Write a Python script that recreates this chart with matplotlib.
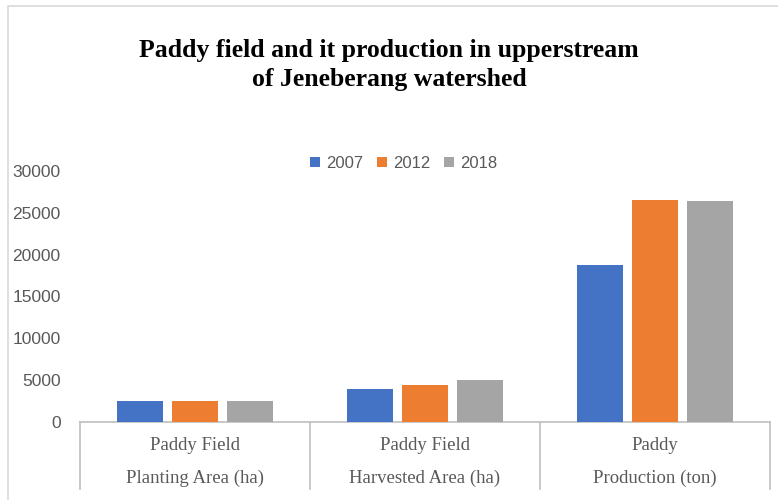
import matplotlib.pyplot as plt
import numpy as np
from matplotlib.patches import Rectangle

# data
cat_top = ["Paddy Field", "Paddy Field", "Paddy"]
cat_bottom = ["Planting Area (ha)", "Harvested Area (ha)", "Production (ton)"]
years = ["2007", "2012", "2018"]
v2007 = [2550, 4000, 18800]
v2012 = [2550, 4450, 26500]
v2018 = [2550, 5000, 26400]
colors = ["#4472C4", "#ED7D31", "#A5A5A5"]

fig = plt.figure(figsize=(7.78, 5.0), dpi=100)
ax = fig.add_axes([80 / 778, 78 / 500, 690 / 778, 251 / 500])

# outer chart border
fig.patches.append(Rectangle((8 / 778, -0.1), 1.2, 1.1 - 6 / 500, transform=fig.transFigure,
                             fill=False, edgecolor="#D9D9D9", linewidth=1.2))

x = np.arange(len(cat_top))
w = 0.196
step = 0.239
for i, (vals, c, yr) in enumerate(zip([v2007, v2012, v2018], colors, years)):
    ax.bar(x + (i - 1) * step, vals, width=w, color=c, label=yr, zorder=3)

ax.set_xlim(-0.5, 2.5)
ax.set_ylim(0, 30000)
ax.set_yticks(range(0, 30001, 5000))
ax.set_xticks([])
for s in ["top", "right", "left"]:
    ax.spines[s].set_visible(False)
ax.spines["bottom"].set_color("#BFBFBF")
ax.spines["bottom"].set_linewidth(1.2)
ax.tick_params(axis="y", length=0, pad=14, labelsize=12.5, labelcolor="#595959")
for lab in ax.get_yticklabels():
    lab.set_fontfamily("Liberation Sans")

# category axis: separators and two-row labels
trans = ax.get_xaxis_transform()
for b in np.arange(-0.5, 3.0, 1.0):
    ax.plot([b, b], [0, -67 / 251], transform=trans, color="#BFBFBF", lw=1.2, clip_on=False)
for i in range(len(cat_top)):
    ax.text(x[i], -23 / 251, cat_top[i], transform=trans, ha="center", va="center",
            family="Liberation Serif", fontsize=13.5, color="#595959")
    ax.text(x[i], -56 / 251, cat_bottom[i], transform=trans, ha="center", va="center",
            family="Liberation Serif", fontsize=13.5, color="#595959")

leg = ax.legend(loc="center", bbox_to_anchor=(0.469, 1.03), ncol=3, frameon=False,
                handlelength=0.6, handleheight=0.6, handletextpad=0.35, columnspacing=0.85,
                prop={"family": "Liberation Sans", "size": 12})
for t in leg.get_texts():
    t.set_color("#595959")

fig.text(0.5, 1 - 65 / 500, "Paddy field and it production in upperstream\nof Jeneberang watershed",
         ha="center", va="center", family="Liberation Serif", fontweight="bold",
         fontsize=18.5, linespacing=1.35, color="#000000")

fig.savefig("out.png", dpi=100)
